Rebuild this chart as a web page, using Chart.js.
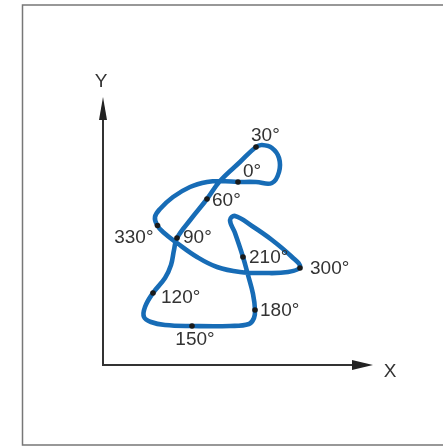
<!DOCTYPE html>
<html>
<head>
<meta charset="utf-8">
<script src="https://cdn.jsdelivr.net/npm/chart.js@4"></script>
<style>
  html, body { margin: 0; padding: 0; background: #fff; }
  canvas { display: block; }
</style>
</head>
<body>
<canvas id="curveChart" width="443" height="446"></canvas>
<script>
// traced path of the closed curve, axis units
const curveX = [13.5, 15.3, 16.9, 17.6, 17.6, 16.9, 15.9, 15.3, 13.7, 11.7, 10.4, 8.8, 7.4, 7.1, 6.8, 6.2, 5.0, 4.2, 4.1, 4.8, 6.2, 8.9, 12.7, 14.6, 15.1, 15.2, 15.0, 14.5, 14.0, 13.2, 12.7, 13.2, 14.9, 16.9, 18.9, 19.7, 18.5, 16.0, 13.7, 11.4, 9.4, 7.4, 6.0, 5.4, 5.2, 5.7, 7.0, 8.7, 10.4, 11.7, 13.5];
const curveY = [18.3, 18.3, 18.2, 19.3, 20.7, 21.7, 22.0, 21.8, 20.3, 18.4, 16.6, 14.6, 12.7, 11.5, 10.0, 8.7, 7.2, 5.8, 4.8, 4.3, 4.0, 3.9, 3.9, 4.1, 4.7, 5.5, 7.1, 9.0, 10.8, 13.2, 14.5, 14.9, 13.9, 12.5, 10.8, 9.8, 9.3, 9.2, 9.3, 9.8, 10.8, 12.2, 13.3, 14.0, 14.8, 15.6, 16.8, 17.8, 18.3, 18.4, 18.3];

// marked crank angles
const angleLabels = ["0°", "30°", "60°", "90°", "120°", "150°", "180°", "210°", "300°", "330°"];
const angleX = [13.5, 15.3, 10.4, 7.4, 5.0, 8.9, 15.2, 14.0, 19.7, 5.45];
const angleY = [18.3, 21.8, 16.6, 12.7, 7.2, 3.9, 5.5, 10.8, 9.7, 13.95];

const axisNames = ["X", "Y"];

// where each angle label sits relative to its dot
const labelPlace = [
    { dx: 5, dy: -5, align: "left" },
    { dx: -5, dy: -6, align: "left" },
    { dx: 5, dy: 7, align: "left" },
    { dx: 6, dy: 5, align: "left" },
    { dx: 8, dy: 10, align: "left" },
    { dx: 3, dy: 19, align: "center" },
    { dx: 5, dy: 6, align: "left" },
    { dx: 6, dy: 6, align: "left" },
    { dx: 10, dy: 6, align: "left" },
    { dx: -4, dy: 17, align: "right" }
];

const textColor = "#333";
const fontFamily = "'Liberation Sans', Arial, Helvetica, sans-serif";

const framePlugin = {
    id: "frame",
    beforeDraw(chart) {
        const c = chart.ctx;
        c.save();
        c.strokeStyle = "#777";
        c.lineWidth = 1.5;
        c.beginPath();
        c.moveTo(445, 5);
        c.lineTo(22.5, 5);
        c.lineTo(22.5, 445);
        c.lineTo(445, 445);
        c.stroke();
        c.restore();
    }
};

const axesPlugin = {
    id: "arrowAxes",
    beforeDatasetsDraw(chart) {
        const c = chart.ctx;
        const xs = chart.scales.x, ys = chart.scales.y;
        const ox = xs.getPixelForValue(0), oy = ys.getPixelForValue(0);
        const xTip = xs.getPixelForValue(xs.max), yTip = ys.getPixelForValue(ys.max);

        c.save();
        c.strokeStyle = "#333";
        c.fillStyle = "#222";
        c.lineWidth = 2;
        c.beginPath();
        c.moveTo(ox, yTip + 20);
        c.lineTo(ox, oy);
        c.lineTo(xTip - 20, oy);
        c.stroke();

        // arrow heads
        c.beginPath();
        c.moveTo(ox, yTip);
        c.lineTo(ox - 4, yTip + 23);
        c.lineTo(ox + 4, yTip + 23);
        c.closePath();
        c.fill();
        c.beginPath();
        c.moveTo(xTip, oy);
        c.lineTo(xTip - 21, oy - 5);
        c.lineTo(xTip - 21, oy + 5);
        c.closePath();
        c.fill();

        c.fillStyle = textColor;
        c.font = "19px " + fontFamily;
        c.textAlign = "center";
        c.textBaseline = "alphabetic";
        c.fillText(axisNames[0], xTip + 17, oy + 12);
        c.fillText(axisNames[1], ox - 2, yTip - 10);
        c.restore();
    }
};

const labelPlugin = {
    id: "angleLabels",
    afterDatasetsDraw(chart) {
        const c = chart.ctx;
        const xs = chart.scales.x, ys = chart.scales.y;
        c.save();
        c.fillStyle = textColor;
        c.font = "19px " + fontFamily;
        c.textBaseline = "alphabetic";
        angleLabels.forEach((txt, i) => {
            const p = labelPlace[i];
            c.textAlign = p.align;
            c.fillText(txt, xs.getPixelForValue(angleX[i]) + p.dx, ys.getPixelForValue(angleY[i]) + p.dy);
        });
        c.restore();
    }
};

new Chart(document.getElementById("curveChart"), {
    type: "scatter",
    data: {
        datasets: [
            {
                label: "angles",
                data: angleX.map((x, i) => ({ x: x, y: angleY[i] })),
                pointRadius: 2.8,
                pointBackgroundColor: "#1a1a1a",
                pointBorderWidth: 0,
                showLine: false,
                order: 0
            },
            {
                label: "path",
                data: curveX.map((x, i) => ({ x: x, y: curveY[i] })),
                showLine: true,
                borderColor: "#176cb6",
                borderWidth: 4.6,
                tension: 0.4,
                pointRadius: 0,
                order: 1
            }
        ]
    },
    options: {
        responsive: false,
        animation: false,
        events: [],
        layout: { padding: { left: 103, right: 70, top: 97, bottom: 81 } },
        plugins: {
            legend: { display: false },
            tooltip: { enabled: false }
        },
        scales: {
            x: { type: "linear", min: 0, max: 27, display: false },
            y: { type: "linear", min: 0, max: 26.8, display: false }
        }
    },
    plugins: [framePlugin, axesPlugin, labelPlugin]
});
</script>
</body>
</html>
